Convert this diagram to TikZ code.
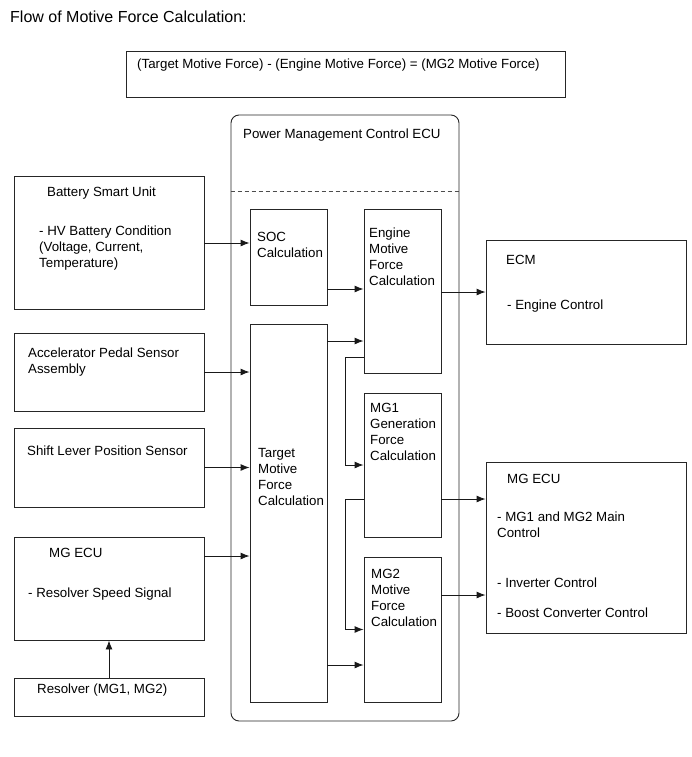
\documentclass[tikz,border=0pt]{standalone}
\usepackage{fontspec}
\setmainfont{Liberation Sans}
\usetikzlibrary{arrows.meta}
\begin{document}
\begin{tikzpicture}[x=1pt,y=-1pt,
  box/.style={draw=black!85,line width=0.9pt,inner sep=0pt,fill=none},
  txt/.style={anchor=north west,inner sep=0pt,align=left,font=\fontsize{13.3}{16}\selectfont},
  arr/.style={draw=black!90,line width=0.9pt,-{Latex[length=9pt,width=7pt]}},
  ln/.style={draw=black!90,line width=0.9pt}]
\useasboundingbox (0,0) rectangle (691,757);
% title
\node[anchor=north west,inner sep=0pt,font=\fontsize{16}{19}\selectfont] (title) at (10,11) {Flow of Motive Force Calculation:};
% formula box
\node[box,minimum width=439pt,minimum height=46pt] (formula) at (345.5,74) {};
\node[txt] (formulat) at (137,58.2) {(Target Motive Force) - (Engine Motive Force) = (MG2 Motive Force)};
% ECU
\node[box,rounded corners=8pt,minimum width=228pt,minimum height=606pt] (ecu) at (345,418) {};
\node[txt] (ecut) at (243,128.2) {Power Management Control ECU};
\draw[ln,dashed,dash pattern=on 4pt off 3pt,draw=black!70] (ecu.west |- 0,191) coordinate (dl) -- (dl -| ecu.east);
% left boxes
\node[box,minimum width=190pt,minimum height=133pt] (battery) at (109,242.5) {};
\node[box,minimum width=190pt,minimum height=78pt] (accel) at (109,372) {};
\node[box,minimum width=190pt,minimum height=79pt] (shift) at (109,467.5) {};
\node[box,minimum width=190pt,minimum height=103pt] (mgecuL) at (109,588.5) {};
\node[box,minimum width=190pt,minimum height=38pt] (resolver) at (109,697) {};
\node[txt] (batteryt) at (47,186.2) {Battery Smart Unit};
\node[txt] (batteryb) at (39,225.2) {- HV Battery Condition\\(Voltage, Current,\\Temperature)};
\node[txt] (accelt) at (28,347.2) {Accelerator Pedal Sensor\\Assembly};
\node[txt] (shiftt) at (27,445.2) {Shift Lever Position Sensor};
\node[txt] (mgecuLt) at (49,548.2) {MG ECU};
\node[txt] (mgecuLb) at (28,587.2) {- Resolver Speed Signal};
\node[txt] (resolvert) at (37,683.2) {Resolver (MG1, MG2)};
% inner boxes
\node[box,minimum width=77pt,minimum height=96pt] (soc) at (288.5,257) {};
\node[box,minimum width=77pt,minimum height=378pt] (target) at (288.5,513) {};
\node[box,minimum width=77pt,minimum height=164pt] (engine) at (402.5,291) {};
\node[box,minimum width=77pt,minimum height=144pt] (mg1) at (402.5,465) {};
\node[box,minimum width=77pt,minimum height=145pt] (mg2) at (402.5,629.5) {};
\node[txt] (soct) at (257,232.2) {SOC\\Calculation};
\node[txt] (enginet) at (369,227.2) {Engine\\Motive\\Force\\Calculation};
\node[txt] (targett) at (258,448.2) {Target\\Motive\\Force\\Calculation};
\node[txt] (mg1t) at (370,403.2) {MG1\\Generation\\Force\\Calculation};
\node[txt] (mg2t) at (371,569.2) {MG2\\Motive\\Force\\Calculation};
% right boxes
\node[box,minimum width=200pt,minimum height=104pt] (ecm) at (586,292) {};
\node[box,minimum width=200pt,minimum height=171pt] (mgecuR) at (586,547.5) {};
\node[txt] (ecmt) at (506,255.2) {ECM};
\node[txt] (ecmb) at (507,299.2) {- Engine Control};
\node[txt] (mgecuRt) at (507,474.2) {MG ECU};
\node[txt] (mgecuRb1) at (497,511.2) {- MG1 and MG2 Main\\Control};
\node[txt] (mgecuRb2) at (497,577.2) {- Inverter Control};
\node[txt] (mgecuRb3) at (497,607.2) {- Boost Converter Control};
% helper coordinates
\coordinate (y289) at (0,289);
\coordinate (y341) at (0,341);
\coordinate (y357) at (0,357);
\coordinate (y499) at (0,499);
\coordinate (y556) at (0,556);
\coordinate (y595) at (0,595);
\coordinate (y665) at (0,665);
\coordinate (y243) at (0,243);
\coordinate (xj) at (345,0);
% connectors
\draw[arr] (battery.east |- y243) -- (soc.west |- y243);
\draw[arr] (accel.east) -- (accel.east -| target.west);
\draw[arr] (shift.east) -- (shift.east -| target.west);
\draw[arr] (mgecuL.east |- y556) -- (target.west |- y556);
\draw[arr] (resolver.north) -- (mgecuL.south);
\draw[arr] (soc.east |- y289) -- (engine.west |- y289);
\draw[arr] (target.east |- y341) -- (engine.west |- y341);
\draw[arr] (engine.west |- y357) -- (xj |- y357) -- (xj |- mg1.west) -- (mg1.west);
\draw[arr] (mg1.west |- y499) -- (xj |- y499) -- (xj |- mg2.west) -- (mg2.west);
\draw[arr] (target.east |- y665) -- (mg2.west |- y665);
\draw[arr] (engine.east |- ecm.west) -- (ecm.west);
\draw[arr] (mg1.east |- y499) -- (mgecuR.west |- y499);
\draw[arr] (mg2.east |- y595) -- (mgecuR.west |- y595);
\end{tikzpicture}
\end{document}
